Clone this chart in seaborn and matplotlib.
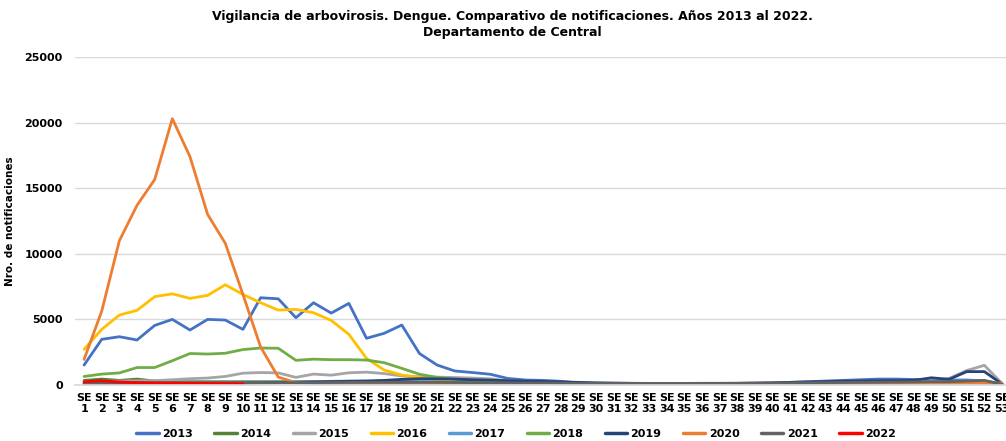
import numpy as np
import pandas as pd
import matplotlib
matplotlib.use("Agg")
import matplotlib.pyplot as plt
import seaborn as sns

weeks = [f"SE\n{i}" for i in range(1, 54)]
years = ["2013", "2014", "2015", "2016", "2017", "2018", "2019", "2020", "2021", "2022"]

s2013 = [1520, 3480, 3680, 3430, 4540, 5000, 4190, 5000, 4950, 4240, 6650, 6570, 5130, 6270, 5480, 6220, 3560, 3940, 4570, 2400,
         1520, 1070, 950, 820, 500, 380, 350, 280, 150, 120, 110, 100, 100, 100, 90, 100, 100, 110, 120, 130,
         200, 250, 300, 350, 400, 450, 450, 420, 400, 380, 380, 300, 100]
s2014 = [350, 450, 350, 450, 300, 250, 250, 250, 250, 250, 250, 250, 250, 250, 250, 250, 250, 250, 250, 230,
         200, 200, 180, 150, 120, 100, 100, 90, 80, 80, 80, 80, 80, 80, 80, 80, 80, 80, 80, 80,
         80, 80, 80, 80, 80, 80, 80, 80, 80, 80, 80, 80, 60]
s2015 = [250, 280, 300, 320, 330, 400, 480, 530, 650, 900, 950, 920, 580, 830, 750, 930, 980, 870, 690, 620,
         600, 570, 530, 470, 330, 230, 200, 170, 120, 100, 100, 100, 90, 90, 90, 90, 90, 90, 100, 100,
         110, 120, 130, 150, 150, 170, 200, 250, 350, 500, 1100, 1500, 120]
s2016 = [2720, 4240, 5330, 5690, 6730, 6950, 6600, 6830, 7640, 6900, 6270, 5710, 5760, 5510, 4920, 3860, 2030, 1140, 760, 580,
         320, 220, 160, 130, 110, 100, 100, 100, 90, 90, 90, 90, 100, 100, 100, 100, 110, 110, 120, 120,
         120, 120, 120, 120, 120, 120, 110, 110, 110, 100, 100, 100, 60]
s2017 = [100, 120, 150, 150, 150, 150, 150, 160, 170, 180, 200, 220, 230, 260, 280, 300, 300, 300, 280, 260,
         230, 200, 180, 160, 150, 130, 120, 110, 100, 100, 90, 90, 90, 90, 90, 90, 90, 90, 100, 100,
         120, 140, 160, 180, 200, 220, 240, 260, 280, 300, 320, 300, 80]
s2018 = [650, 830, 920, 1330, 1330, 1850, 2400, 2360, 2420, 2700, 2820, 2800, 1880, 1970, 1930, 1930, 1900, 1700, 1270, 820,
         580, 430, 320, 230, 150, 120, 100, 90, 80, 70, 70, 60, 60, 60, 60, 60, 60, 60, 60, 60,
         60, 60, 60, 60, 60, 60, 60, 60, 50, 50, 50, 50, 30]
s2019 = [100, 100, 110, 110, 110, 120, 120, 130, 130, 140, 160, 180, 200, 230, 260, 280, 300, 350, 430, 480,
         470, 450, 400, 370, 330, 290, 270, 240, 200, 170, 150, 130, 120, 110, 100, 110, 120, 130, 150, 170,
         200, 230, 260, 290, 300, 320, 330, 350, 550, 430, 1020, 1020, 80]
s2020 = [1950, 5630, 11000, 13700, 15660, 20300, 17400, 13000, 10800, 6900, 2900, 600, 180, 100, 80, 60, 50, 50, 50, 40,
         40, 40, 40, 40, 40, 40, 40, 40, 40, 40, 40, 40, 40, 40, 40, 50, 50, 50, 50, 50,
         50, 50, 60, 60, 60, 70, 70, 80, 90, 100, 120, 130, 150]
s2021 = [150, 180, 200, 200, 180, 170, 160, 160, 160, 160, 170, 170, 180, 180, 190, 200, 200, 200, 200, 200,
         200, 190, 180, 170, 160, 150, 150, 140, 130, 120, 120, 120, 120, 120, 120, 130, 130, 130, 140, 150,
         160, 170, 180, 190, 200, 210, 220, 230, 250, 250, 300, 350, 50]
s2022 = [250, 320, 230, 170, 150, 140, 130, 120, 110, 100]

series = [s2013, s2014, s2015, s2016, s2017, s2018, s2019, s2020, s2021, s2022]
colors = ["#4472C4", "#548235", "#A5A5A5", "#FFC000", "#5B9BD5", "#70AD47", "#264478", "#ED7D31", "#636363", "#FF0000"]
palette = dict(zip(years, colors))

rows = []
for y, vals in zip(years, series):
    for i, v in enumerate(vals):
        rows.append({"week": i, "year": y, "value": v})
df = pd.DataFrame(rows)

sns.set_theme(style="white")
plt.rcParams['font.family'] = ['DejaVu Sans']
plt.rcParams['text.color'] = 'black'
plt.rcParams['axes.labelcolor'] = 'black'
plt.rcParams['xtick.color'] = 'black'
plt.rcParams['ytick.color'] = 'black'

fig = plt.figure(figsize=(10.06, 4.41), dpi=100)
ax = fig.add_axes([0.0748, 0.127, 0.930, 0.7437])

sns.lineplot(data=df, x="week", y="value", hue="year", hue_order=years, palette=palette,
             linewidth=2.0, ax=ax, legend=True, estimator=None, sort=False)

ax.set_xlim(-0.5, 52.5)
ax.set_ylim(0, 25000)
ax.set_yticks(range(0, 25001, 5000))
ax.set_yticklabels([str(v) for v in range(0, 25001, 5000)], fontsize=8, fontweight="bold")
ax.set_xticks(range(53))
ax.set_xticklabels(weeks, fontsize=8, fontweight="bold", linespacing=1.05)
ax.tick_params(axis="both", length=0)
ax.tick_params(axis="y", pad=9)
ax.tick_params(axis="x", pad=6)
ax.grid(axis="y", color="#D9D9D9", linewidth=1.0)
ax.grid(axis="x", visible=False)
for sp in ["top", "right", "left"]:
    ax.spines[sp].set_visible(False)
ax.spines["bottom"].set_color("#D9D9D9")
ax.set_xlabel("")
ax.set_ylabel("Nro. de notificaciones", fontsize=7.5, fontweight="bold")
ax.yaxis.set_label_coords(-0.064, 0.5)

handles, labels = ax.get_legend_handles_labels()
ax.get_legend().remove()
leg = fig.legend(handles, labels, loc="center", bbox_to_anchor=(0.513, 1 - 434 / 441), ncol=10,
                 frameon=False, handlelength=2.0, handletextpad=0.3, columnspacing=1.95,
                 prop={"size": 8, "weight": "bold"})
for line in leg.get_lines():
    line.set_linewidth(2.5)

fig.suptitle("Vigilancia de arbovirosis. Dengue. Comparativo de notificaciones. Años 2013 al 2022.\nDepartamento de Central",
             x=0.509, y=0.978, fontsize=9, fontweight="bold", linespacing=1.3, va="top")

fig.savefig("out.png", dpi=100)
